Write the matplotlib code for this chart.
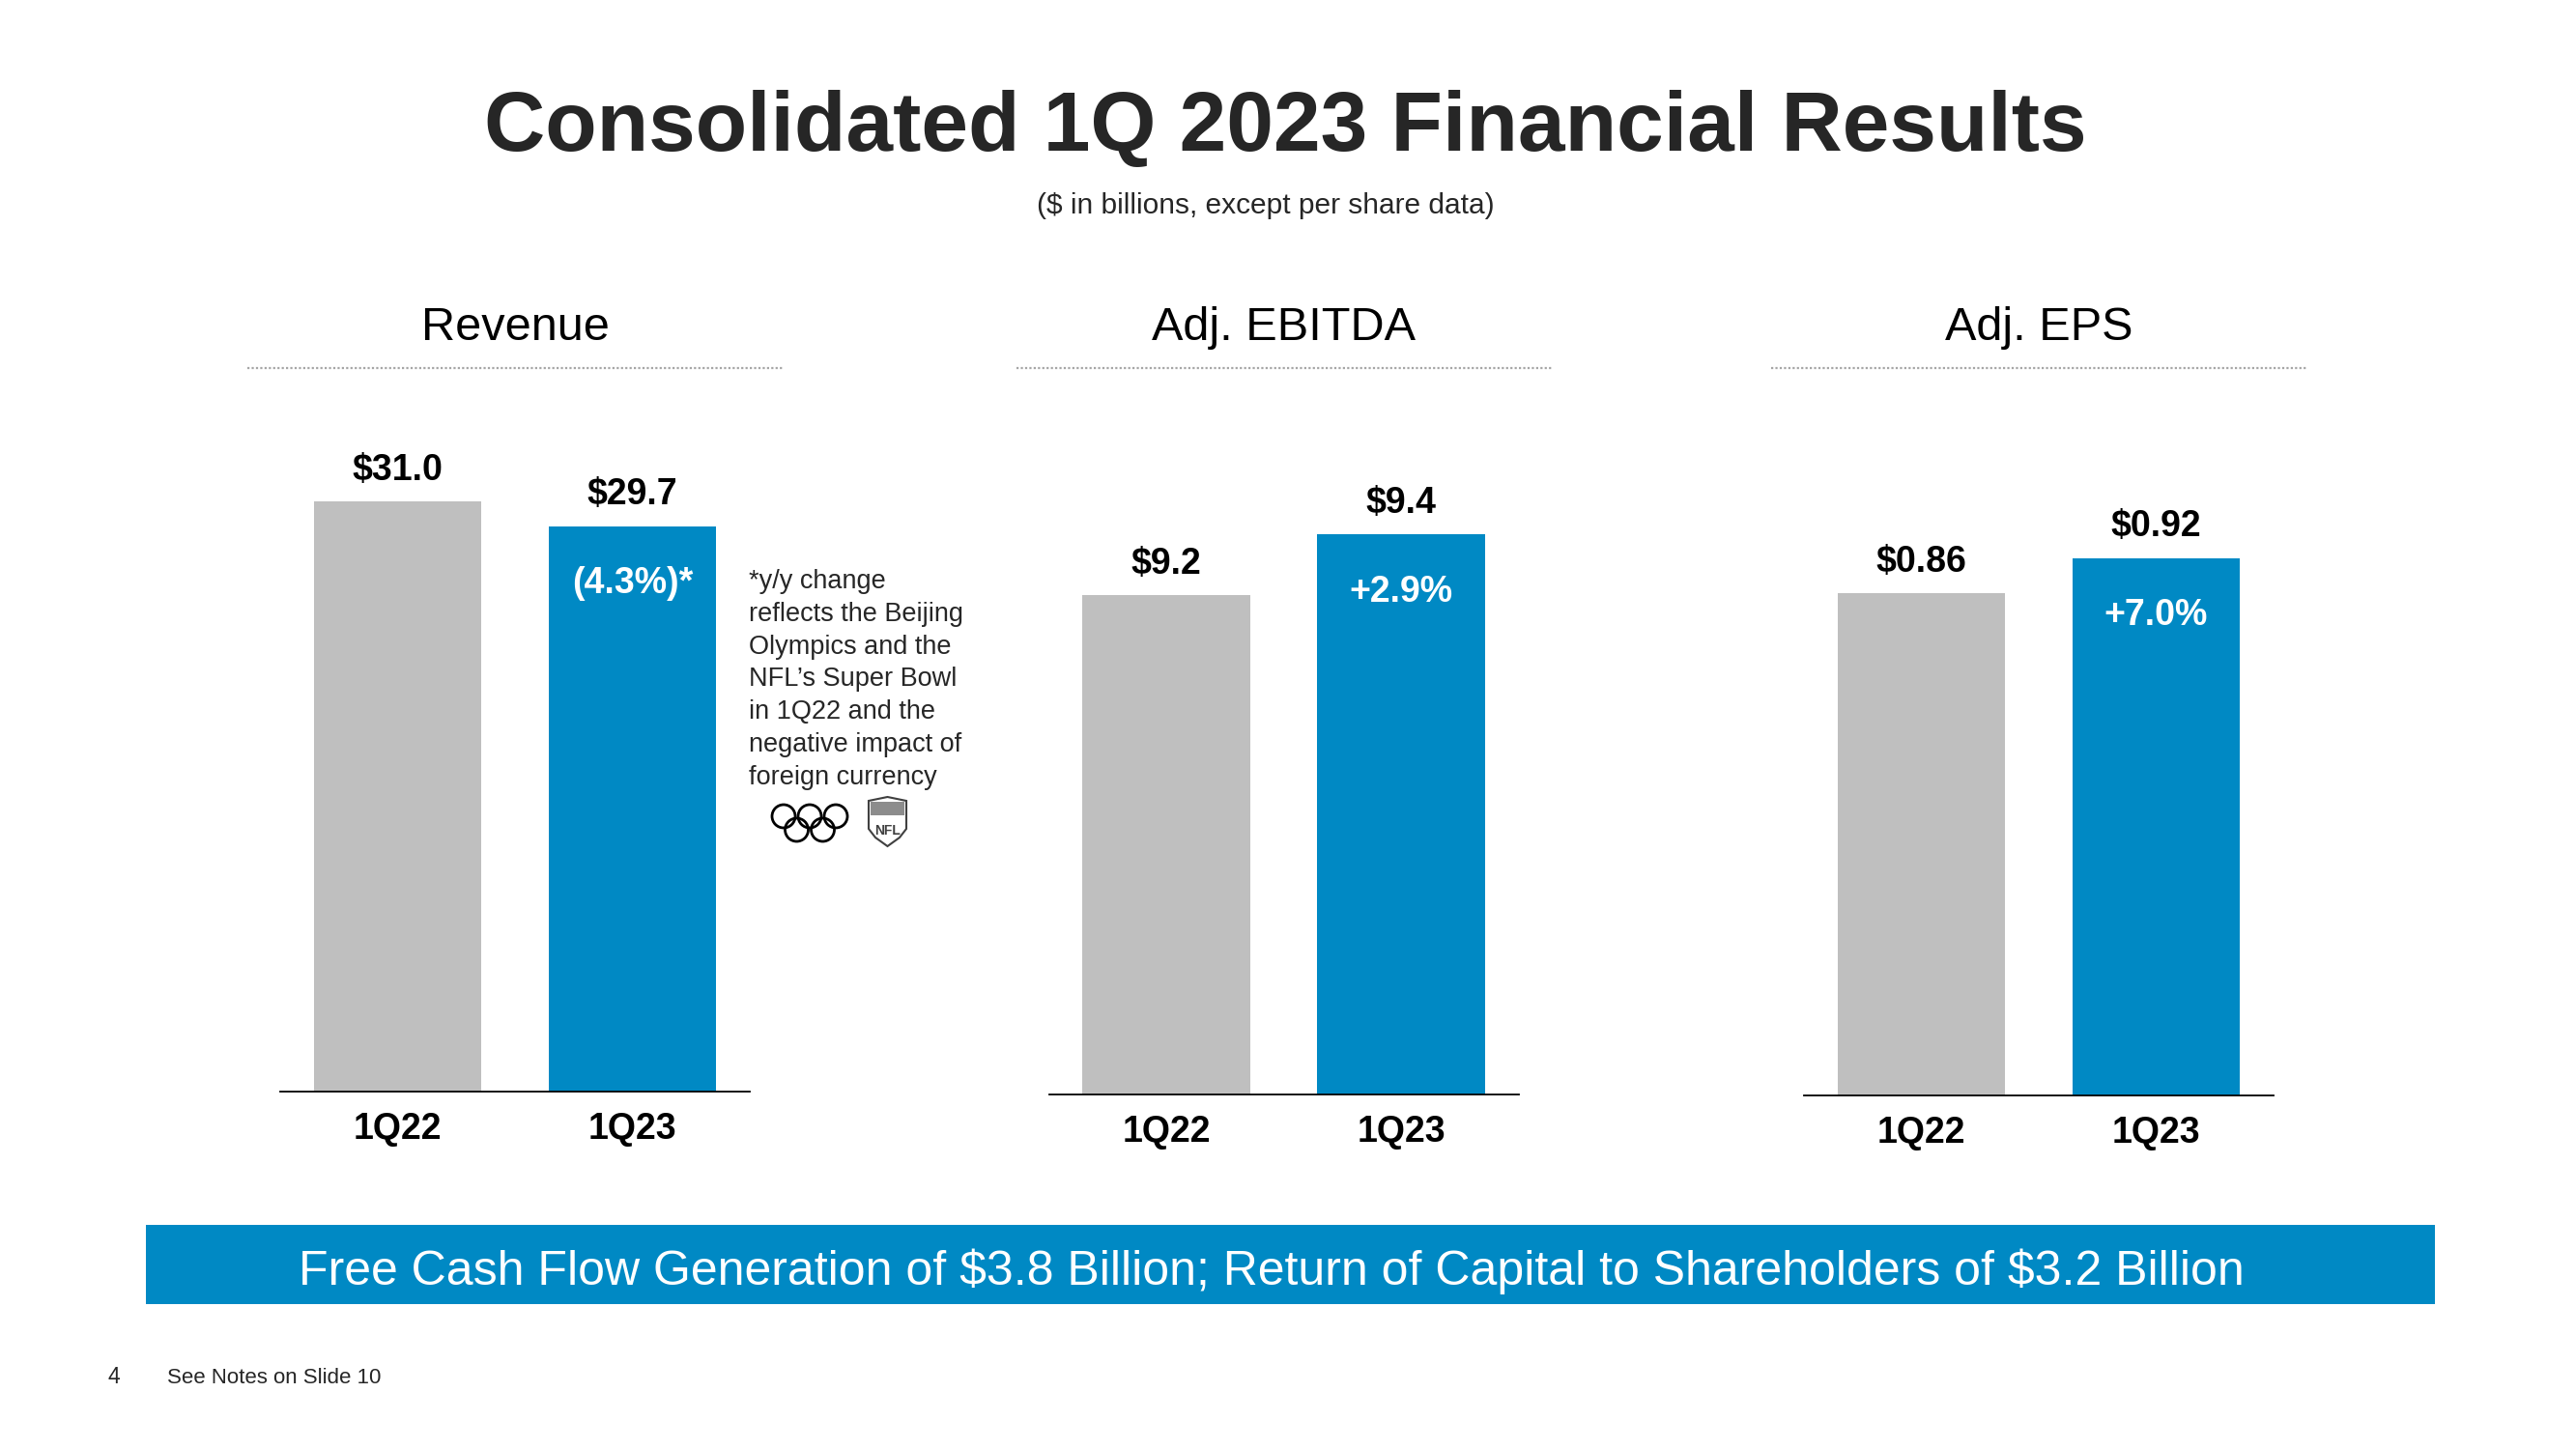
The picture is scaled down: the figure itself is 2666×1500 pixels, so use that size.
import matplotlib
matplotlib.use("Agg")
import matplotlib.pyplot as plt
from matplotlib.transforms import Affine2D
from matplotlib.patches import Rectangle, Circle, Polygon
from matplotlib.lines import Line2D

# ---------------- data ----------------
periods = ["1Q22", "1Q23"]
panel_titles = ["Revenue", "Adj. EBITDA", "Adj. EPS"]
revenue = [31.0, 29.7]
adj_ebitda = [9.2, 9.4]
adj_eps = [0.86, 0.92]
revenue_labels = ["$31.0", "$29.7"]
ebitda_labels = ["$9.2", "$9.4"]
eps_labels = ["$0.86", "$0.92"]
yoy_change = ["(4.3%)*", "+2.9%", "+7.0%"]

title = "Consolidated 1Q 2023 Financial Results"
subtitle = "($ in billions, except per share data)"
footnote_lines = ["*y/y change", "reflects the Beijing", "Olympics and the",
                  "NFL\u2019s Super Bowl", "in 1Q22 and the",
                  "negative impact of", "foreign currency"]
banner_text = ("Free Cash Flow Generation of $3.8 Billion; "
               "Return of Capital to Shareholders of $3.2 Billion")
page_number = "4"
notes_text = "See Notes on Slide 10"

# ---------------- style ----------------
W, H, DPI = 2666, 1500, 100
GRAY = "#BFBFBF"
BLUE = "#0089C4"
DARK = "#262626"
FONT = "Liberation Sans"
plt.rcParams["font.family"] = [FONT, "DejaVu Sans"]
plt.rcParams["text.parse_math"] = False

fig = plt.figure(figsize=(W / DPI, H / DPI), dpi=DPI)
fig.patch.set_facecolor("white")
# pixel transform (x right, y down, origin top-left)
PX = Affine2D().scale(1 / DPI, -1 / DPI).translate(0, H / DPI) + fig.dpi_scale_trans

# title & subtitle
fig.text(1330, 156, title, transform=PX, ha="center", va="baseline",
         fontsize=63, fontweight="bold", color=DARK)
fig.text(1310, 221, subtitle, transform=PX, ha="center", va="baseline",
         fontsize=21.5, color=DARK)

# panel layout: (axes left px, baseline px, ymin, px per unit)
panels = [
    (290, 1130, 0.0, 19.71),
    (1085.5, 1133, 7.559, 315.0),
    (1867, 1134, 0.0, 604.7),
]
series = [revenue, adj_ebitda, adj_eps]
labels = [revenue_labels, ebitda_labels, eps_labels]
AX_W = 486
AX_TOP = 400

for (left, base, ymin, ppu), vals, labs, ttl, chg in zip(panels, series, labels,
                                                         panel_titles, yoy_change):
    ax = fig.add_axes([left / W, 1 - base / H, AX_W / W, (base - AX_TOP) / H])
    ax.bar(range(len(periods)), vals, width=0.712, color=[GRAY, BLUE], zorder=2)
    ax.set_xlim(-0.5, 1.5)
    ax.set_ylim(ymin, ymin + (base - AX_TOP) / ppu)
    for s in ["top", "left", "right"]:
        ax.spines[s].set_visible(False)
    ax.spines["bottom"].set_color("black")
    ax.spines["bottom"].set_linewidth(1.3)
    ax.spines["bottom"].set_zorder(3)
    ax.set_yticks([])
    ax.set_xticks(range(len(periods)))
    ax.set_xticklabels(periods, fontsize=27, fontweight="bold", color="black")
    ax.tick_params(axis="x", length=0, pad=15)
    ax.patch.set_alpha(0)
    for i, (v, lab) in enumerate(zip(vals, labs)):
        ax.annotate(lab, xy=(i, v), xytext=(0, 16), textcoords="offset points",
                    ha="center", va="baseline", fontsize=27, fontweight="bold",
                    color="black")
    ax.annotate(chg, xy=(1, vals[1]), xytext=(0, -50), textcoords="offset points",
                ha="center", va="baseline", fontsize=27, fontweight="bold",
                color="white")
    cx = left + AX_W / 2
    fig.text(cx, 352, ttl, transform=PX, ha="center", va="baseline",
             fontsize=35, color="black")
    fig.add_artist(Line2D([cx - 277, cx + 277], [381, 381], transform=PX,
                          color="#A6A6A6", linewidth=1.6, linestyle=(0, (1, 1))))

# footnote
fig.text(775, 589, "\n".join(footnote_lines), transform=PX, ha="left", va="top",
         fontsize=19.5, color=DARK, linespacing=1.39)

# Olympic rings (monochrome)
r = 12
for cxr, cyr in [(811, 845), (838, 845), (865, 845), (824.5, 859), (851.5, 859)]:
    fig.add_artist(Circle((cxr, cyr), r, transform=PX, fill=False,
                          edgecolor="black", linewidth=2.0))
# NFL shield
shield = [(899, 829), (918.5, 825), (938, 829), (938, 858), (931, 867),
          (918.5, 876), (906, 867), (899, 858)]
fig.add_artist(Polygon(shield, closed=True, transform=PX, facecolor="white",
                       edgecolor="#404040", linewidth=1.5))
fig.add_artist(Rectangle((901, 830), 35, 14, transform=PX, facecolor="#8C8C8C",
                         edgecolor="none"))
fig.text(918.5, 860, "NFL", transform=PX, ha="center", va="center",
         fontsize=10, fontweight="bold", color="#404040")

# banner
fig.add_artist(Rectangle((151, 1268), 2369, 82, transform=PX, facecolor=BLUE,
                         edgecolor="none"))
fig.text(1316, 1316, banner_text, transform=PX, ha="center", va="center",
         fontsize=36, color="white")

# footer
fig.text(112, 1432, page_number, transform=PX, ha="left", va="baseline",
         fontsize=16.5, color=DARK)
fig.text(173, 1432, notes_text, transform=PX, ha="left", va="baseline",
         fontsize=16, color=DARK)

fig.savefig("out.png", dpi=DPI, facecolor="white")
